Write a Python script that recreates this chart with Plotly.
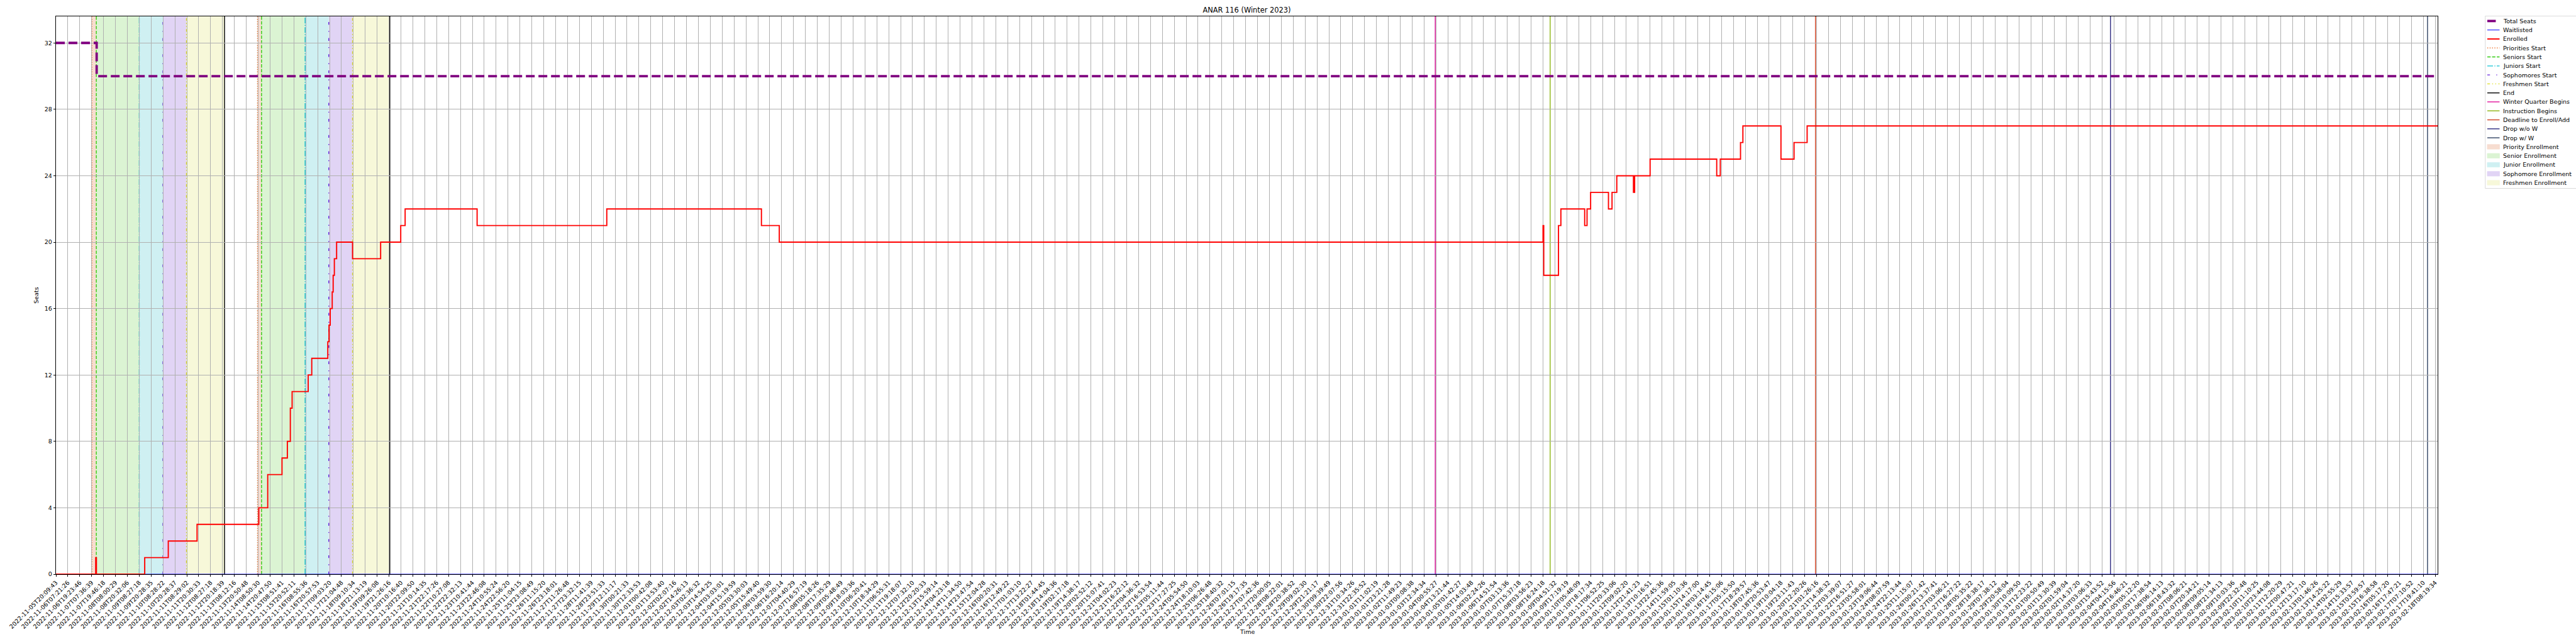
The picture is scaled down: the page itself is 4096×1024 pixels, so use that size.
import plotly.graph_objects as go

# ---------------- data ----------------
tick_labels = [
    "2022-11-05T20:09:43", "2022-11-06T07:21:26", "2022-11-06T19:23:46", "2022-11-07T07:36:39", "2022-11-07T19:46:18",
    "2022-11-08T08:00:29", "2022-11-08T20:32:06", "2022-11-09T08:27:18", "2022-11-09T20:28:35", "2022-11-10T08:28:22",
    "2022-11-10T20:28:37", "2022-11-11T08:29:02", "2022-11-11T20:30:33", "2022-11-12T08:27:18", "2022-11-12T20:18:39",
    "2022-11-13T08:12:16", "2022-11-13T20:50:48", "2022-11-14T08:50:30", "2022-11-14T20:47:50", "2022-11-15T08:51:41",
    "2022-11-15T20:52:11", "2022-11-16T08:55:36", "2022-11-16T20:57:53", "2022-11-17T09:03:20", "2022-11-17T21:04:48",
    "2022-11-18T09:10:34", "2022-11-18T21:13:19", "2022-11-19T09:26:08", "2022-11-19T21:26:16", "2022-11-20T10:16:40",
    "2022-11-20T22:09:50", "2022-11-21T10:14:35", "2022-11-21T22:17:26", "2022-11-22T10:27:08", "2022-11-22T22:32:13",
    "2022-11-23T10:41:44", "2022-11-23T22:46:08", "2022-11-24T10:55:24", "2022-11-24T22:56:20", "2022-11-25T11:04:15",
    "2022-11-25T23:08:49", "2022-11-26T11:15:20", "2022-11-26T23:18:01", "2022-11-27T11:26:48", "2022-11-27T23:32:15",
    "2022-11-28T11:41:39", "2022-11-28T23:51:33", "2022-11-29T12:11:17", "2022-11-30T00:21:33", "2022-11-30T12:33:53",
    "2022-12-01T00:42:08", "2022-12-01T13:53:40", "2022-12-02T02:07:16", "2022-12-02T14:26:13", "2022-12-03T02:36:32",
    "2022-12-03T14:54:25", "2022-12-04T03:03:01", "2022-12-04T15:19:59", "2022-12-05T03:30:03", "2022-12-05T15:49:40",
    "2022-12-06T03:59:30", "2022-12-06T16:20:14", "2022-12-07T04:40:29", "2022-12-07T16:57:19", "2022-12-08T05:18:26",
    "2022-12-08T17:35:29", "2022-12-09T05:48:49", "2022-12-09T18:03:36", "2022-12-10T06:20:41", "2022-12-10T18:34:29",
    "2022-12-11T06:55:31", "2022-12-11T19:18:07", "2022-12-12T07:32:10", "2022-12-12T20:20:33", "2022-12-13T15:59:14",
    "2022-12-14T04:23:18", "2022-12-14T11:34:50", "2022-12-14T23:47:54", "2022-12-15T12:04:28", "2022-12-16T00:20:31",
    "2022-12-16T12:49:22", "2022-12-17T01:03:10", "2022-12-17T13:22:27", "2022-12-18T01:44:45", "2022-12-18T14:04:36",
    "2022-12-19T02:17:18", "2022-12-19T14:38:17", "2022-12-20T02:52:12", "2022-12-20T15:07:41", "2022-12-21T04:02:23",
    "2022-12-21T16:22:12", "2022-12-22T04:36:32", "2022-12-22T16:53:54", "2022-12-23T05:11:44", "2022-12-23T17:27:25",
    "2022-12-24T05:54:50", "2022-12-24T18:10:03", "2022-12-25T06:26:48", "2022-12-25T18:40:32", "2022-12-26T07:01:15",
    "2022-12-26T19:17:35", "2022-12-27T07:42:36", "2022-12-27T20:00:05", "2022-12-28T08:22:01", "2022-12-28T20:38:52",
    "2022-12-29T09:02:30", "2022-12-29T21:21:17", "2022-12-30T09:39:49", "2022-12-30T22:07:56", "2022-12-31T10:34:26",
    "2022-12-31T22:35:52", "2023-01-01T11:02:19", "2023-01-01T23:21:28", "2023-01-02T11:49:23", "2023-01-03T00:08:38",
    "2023-01-03T12:34:34", "2023-01-04T00:55:27", "2023-01-04T13:21:44", "2023-01-05T01:42:27", "2023-01-05T14:03:48",
    "2023-01-06T02:24:26", "2023-01-06T14:51:54", "2023-01-07T03:13:36", "2023-01-07T15:37:18", "2023-01-08T03:56:23",
    "2023-01-08T16:24:18", "2023-01-09T04:51:32", "2023-01-09T17:19:19", "2023-01-10T05:48:09", "2023-01-10T18:17:34",
    "2023-01-11T06:52:25", "2023-01-11T20:33:06", "2023-01-12T09:02:20", "2023-01-12T21:41:23", "2023-01-13T10:16:51",
    "2023-01-13T22:45:36", "2023-01-14T11:59:05", "2023-01-15T01:10:36", "2023-01-15T14:17:00", "2023-01-16T03:14:45",
    "2023-01-16T16:15:06", "2023-01-17T05:15:50", "2023-01-17T18:29:57", "2023-01-18T07:45:36", "2023-01-18T20:53:47",
    "2023-01-19T10:04:18", "2023-01-19T23:11:43", "2023-01-20T12:20:26", "2023-01-21T01:26:16", "2023-01-21T14:38:32",
    "2023-01-22T03:39:07", "2023-01-22T16:51:27", "2023-01-23T05:58:01", "2023-01-23T19:06:44", "2023-01-24T08:07:59",
    "2023-01-24T22:13:44", "2023-01-25T11:15:07", "2023-01-26T00:21:42", "2023-01-26T13:37:41", "2023-01-27T03:06:21",
    "2023-01-27T16:27:22", "2023-01-28T05:35:22", "2023-01-28T18:38:17", "2023-01-29T07:38:12", "2023-01-29T20:58:04",
    "2023-01-30T10:09:50", "2023-01-31T12:23:22", "2023-02-01T00:50:49", "2023-02-01T13:30:39", "2023-02-02T01:59:04",
    "2023-02-02T14:37:20", "2023-02-03T03:06:33", "2023-02-03T15:43:52", "2023-02-04T04:15:56", "2023-02-04T16:46:21",
    "2023-02-05T05:12:20", "2023-02-05T17:38:54", "2023-02-06T06:14:13", "2023-02-06T18:43:32", "2023-02-07T08:06:21",
    "2023-02-07T20:34:21", "2023-02-08T09:05:14", "2023-02-08T21:34:13", "2023-02-09T10:03:36", "2023-02-09T22:32:48",
    "2023-02-10T11:10:25", "2023-02-10T23:44:08", "2023-02-11T12:20:29", "2023-02-12T00:47:21", "2023-02-12T13:17:10",
    "2023-02-13T01:46:26", "2023-02-13T14:25:22", "2023-02-14T02:55:29", "2023-02-14T15:33:57", "2023-02-15T03:59:57",
    "2023-02-15T16:38:58", "2023-02-16T05:17:20", "2023-02-16T17:47:21", "2023-02-17T07:10:52", "2023-02-17T19:41:10",
    "2023-02-18T08:19:34",
]
tick_positions = list(range(len(tick_labels)))
x_end = 200.2  # last sample position (in tick-index units)

total_seats_x = [0, 3.42, x_end]
total_seats_y = [32, 30, 30]

waitlisted_x = [0, x_end]
waitlisted_y = [0, 0]

enrolled_x = [0, 3.34, 3.40, 7.46, 9.44, 11.86, 17.05, 17.8, 19.0, 19.45, 19.7, 19.85, 21.2, 21.5,
              22.85, 22.95, 23.05, 23.15, 23.22, 23.3, 23.4, 23.59, 24.93, 27.29, 28.98, 29.35, 35.4,
              46.3, 59.3, 60.8, 125.0, 125.06, 126.3, 126.5, 128.5, 128.7, 129.0, 130.5, 130.8, 131.2,
              132.6, 132.7, 134.0, 139.6, 139.9, 141.6, 141.8, 145.0, 146.1, 147.2, x_end]
enrolled_y = [0, 1, 0, 1, 2, 3, 4, 6, 7, 8, 10, 11, 12, 13,
              14, 15, 16, 16, 17, 18, 19, 20, 19, 20, 21, 22, 21,
              22, 21, 20, 21, 18, 21, 22, 21, 22, 23, 22, 23, 24,
              23, 24, 25, 24, 25, 26, 27, 25, 26, 27, 27]

priority_starts = [3.02, 16.94]
senior_starts = [3.39, 17.28]
junior_starts = [7.00, 20.94]
sophomore_starts = [8.99, 22.93]
freshmen_starts = [10.97, 24.93]
period_ends = [14.17, 28.06]

winter_quarter_begins = 115.94
instruction_begins = 125.6
deadline_enroll_add = 147.9
drop_without_w = 172.7
drop_with_w = 199.35

# ---------------- styling ----------------
W, H = 4096, 1024
L, R, T, B = 89.3, 3876.0, 26.0, 913.2
FONT = "DejaVu Sans"
FS = 9.5

C_TOTAL = "#800080"
C_WAIT = "#0000FF"
C_ENR = "#FF0000"
C_PRI = "#EE7733"
C_SEN = "#33CC11"
C_JUN = "#11C4D4"
C_SOPH = "#6622DD"
C_FRESH = "#DDDD22"
C_END = "#000000"
C_WINTER = "#E0109A"
C_INSTR = "#8DB512"
C_DEAD = "#D04020"
C_DROPWO = "#2E2A80"
C_DROPW = "#2F4160"

F_PRI = "rgb(247,221,208)"
F_SEN = "rgb(219,244,211)"
F_JUN = "rgb(207,240,242)"
F_SOPH = "rgb(225,212,245)"
F_FRESH = "rgb(247,248,217)"

D_PRI = "1.4px,2.4px"
D_SEN = "5.3px,2.3px"
D_JUN = "9.1px,2.3px,1.4px,2.3px"
D_SOPH = "4.3px,10px,1.4px,10px"
D_FRESH = "4.3px,3.5px,1.4px,3.5px,1.4px,3.5px"

fig = go.Figure()

fig.add_trace(go.Scatter(x=waitlisted_x, y=waitlisted_y, mode="lines", name="Waitlisted",
                         line=dict(color=C_WAIT, width=1.0), showlegend=False))
fig.add_trace(go.Scatter(x=enrolled_x, y=enrolled_y, mode="lines", name="Enrolled",
                         line=dict(color=C_ENR, width=1.9, shape="hv"), showlegend=False))
fig.add_trace(go.Scatter(x=total_seats_x, y=total_seats_y, mode="lines", name="Total Seats",
                         line=dict(color=C_TOTAL, width=3.8, shape="hv", dash="14px,6px"), showlegend=False))

shapes = []
for i in range(len(priority_starts)):
    spans = [(priority_starts[i], senior_starts[i], F_PRI),
             (senior_starts[i], junior_starts[i], F_SEN),
             (junior_starts[i], sophomore_starts[i], F_JUN),
             (sophomore_starts[i], freshmen_starts[i], F_SOPH),
             (freshmen_starts[i], period_ends[i], F_FRESH)]
    for x0, x1, c in spans:
        shapes.append(dict(type="rect", xref="x", yref="paper", x0=x0, x1=x1, y0=0, y1=1,
                           fillcolor=c, line=dict(width=0), layer="below"))


def vline(x, color, width, dash="solid"):
    shapes.append(dict(type="line", xref="x", yref="paper", x0=x, x1=x, y0=0, y1=1,
                       line=dict(color=color, width=width, dash=dash), layer="between"))


for i in range(len(priority_starts)):
    vline(priority_starts[i], C_PRI, 1.4, D_PRI)
    vline(senior_starts[i], C_SEN, 1.4, D_SEN)
    vline(junior_starts[i], C_JUN, 1.4, D_JUN)
    vline(sophomore_starts[i], C_SOPH, 1.4, D_SOPH)
    vline(freshmen_starts[i], C_FRESH, 1.4, D_FRESH)
    vline(period_ends[i], C_END, 1.4)
vline(winter_quarter_begins, C_WINTER, 1.4)
vline(instruction_begins, C_INSTR, 1.4)
vline(deadline_enroll_add, C_DEAD, 1.4)
vline(drop_without_w, C_DROPWO, 1.4)
vline(drop_with_w, C_DROPW, 1.4)


# ---------------- manual legend (matplotlib style, anchored at axes x=1.02, top) ----------------
def px_x(px):
    return (px - L) / (R - L)


def px_y(py):
    return (B - py) / (B - T)


legend_entries = [
    ("Total Seats", "line", C_TOTAL, 3.8, "solid"),
    ("Waitlisted", "line", C_WAIT, 1.0, "solid"),
    ("Enrolled", "line", C_ENR, 1.9, "solid"),
    ("Priorities Start", "line", C_PRI, 1.4, D_PRI),
    ("Seniors Start", "line", C_SEN, 1.4, D_SEN),
    ("Juniors Start", "line", C_JUN, 1.4, D_JUN),
    ("Sophomores Start", "line", C_SOPH, 1.4, D_SOPH),
    ("Freshmen Start", "line", C_FRESH, 1.4, D_FRESH),
    ("End", "line", C_END, 1.4, "solid"),
    ("Winter Quarter Begins", "line", C_WINTER, 1.4, "solid"),
    ("Instruction Begins", "line", C_INSTR, 1.4, "solid"),
    ("Deadline to Enroll/Add", "line", C_DEAD, 1.4, "solid"),
    ("Drop w/o W", "line", C_DROPWO, 1.4, "solid"),
    ("Drop w/ W", "line", C_DROPW, 1.4, "solid"),
    ("Priority Enrollment", "patch", F_PRI, 0, None),
    ("Senior Enrollment", "patch", F_SEN, 0, None),
    ("Junior Enrollment", "patch", F_JUN, 0, None),
    ("Sophomore Enrollment", "patch", F_SOPH, 0, None),
    ("Freshmen Enrollment", "patch", F_FRESH, 0, None),
]

box_l = R + 0.02 * (R - L)
box_t, box_b = 25.5, 299.6
shapes.append(dict(type="rect", xref="paper", yref="paper", x0=px_x(box_l), x1=px_x(W + 5),
                   y0=px_y(box_b), y1=px_y(box_t), fillcolor="rgba(255,255,255,0.8)",
                   line=dict(color="#CCCCCC", width=0.7), layer="above"))

annotations = []
h0 = box_l + 3.2
h1 = h0 + 19.5
tx = h1 + 5.0
for i, (name, kind, color, width, dash) in enumerate(legend_entries):
    cy = 33.4 + 14.29 * i
    if kind == "line":
        x1 = h0 + 13.5 if name == "Total Seats" else h1
        shapes.append(dict(type="line", xref="paper", yref="paper", x0=px_x(h0), x1=px_x(x1),
                           y0=px_y(cy), y1=px_y(cy), line=dict(color=color, width=width, dash=dash),
                           layer="above"))
    else:
        shapes.append(dict(type="rect", xref="paper", yref="paper", x0=px_x(h0), x1=px_x(h1),
                           y0=px_y(cy + 3.7), y1=px_y(cy - 3.7), fillcolor=color,
                           line=dict(color=color, width=0.7), layer="above"))
    annotations.append(dict(xref="paper", yref="paper", x=px_x(tx), y=px_y(cy), text=name,
                            showarrow=False, xanchor="left", yanchor="middle", borderpad=0,
                            font=dict(family=FONT, size=FS, color="#000000")))

# axis titles placed where matplotlib puts them
annotations.append(dict(xref="paper", yref="paper", x=0.5, y=px_y(1004.7), text="Time",
                        showarrow=False, xanchor="center", yanchor="middle",
                        font=dict(family=FONT, size=FS, color="#000000")))
annotations.append(dict(xref="paper", yref="paper", x=px_x(57.5), y=0.5, text="Seats", textangle=-90,
                        showarrow=False, xanchor="center", yanchor="middle",
                        font=dict(family=FONT, size=FS, color="#000000")))

fig.update_layout(
    width=W, height=H,
    margin=dict(l=L, r=W - R, t=T, b=H - B, pad=0),
    paper_bgcolor="white", plot_bgcolor="white",
    font=dict(family=FONT, size=FS, color="#000000"),
    title=dict(text="ANAR 116 (Winter 2023)", x=0.5, xref="paper", y=1 - 15.7 / H, yref="container",
               xanchor="center", yanchor="middle", font=dict(family=FONT, size=11.4, color="#000000")),
    showlegend=False,
    shapes=shapes,
    annotations=annotations,
)

fig.update_xaxes(
    range=[0, x_end], tickmode="array", tickvals=tick_positions, ticktext=tick_labels,
    tickangle=-45, tickfont=dict(family=FONT, size=FS, color="#000000"),
    ticks="outside", ticklen=3.3, tickwidth=0.8, tickcolor="#000000",
    showgrid=True, gridcolor="#B0B0B0", gridwidth=0.75,
    showline=True, linecolor="#000000", linewidth=0.8, mirror=True,
    zeroline=False, automargin=False,
)
fig.update_yaxes(
    range=[0, 33.6], tickmode="array", tickvals=[0, 4, 8, 12, 16, 20, 24, 28, 32],
    tickfont=dict(family=FONT, size=FS, color="#000000"),
    ticks="outside", ticklen=3.3, tickwidth=0.8, tickcolor="#000000",
    showgrid=True, gridcolor="#B0B0B0", gridwidth=0.75,
    showline=True, linecolor="#000000", linewidth=0.8, mirror=True,
    zeroline=False, automargin=False,
)

# remove the browser's default 8px body margin so the figure sits at the window origin
fig.write_html("out.html",
               config={"displayModeBar": False},
               post_script="document.body.style.margin='0px';document.body.style.overflow='hidden';")
